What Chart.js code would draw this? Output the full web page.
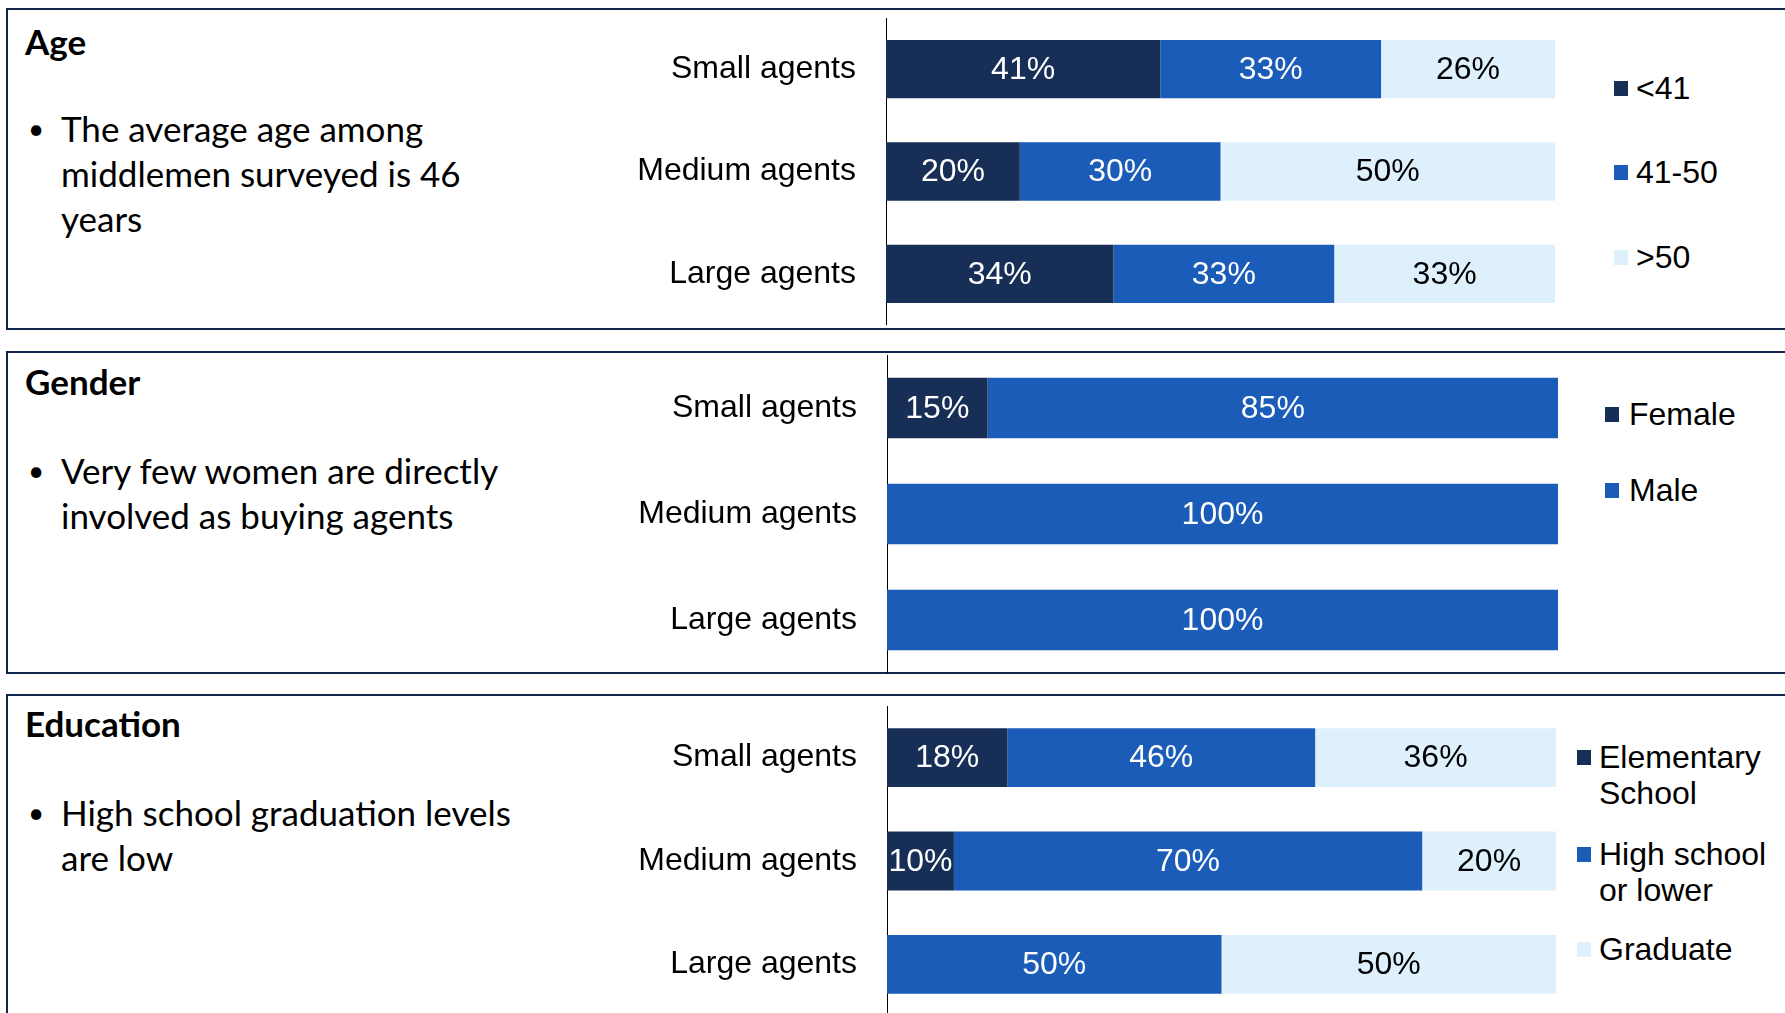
<!DOCTYPE html>
<html>
<head>
<meta charset="utf-8">
<script src="https://cdn.jsdelivr.net/npm/chart.js@4.4.1/dist/chart.umd.min.js"></script>
<style>
    body {
        margin: 0;
        width: 1785px;
        height: 1013px;
        overflow: hidden;
        background: #fff;
        position: relative;
        font-family: Lato, "Open Sans", sans-serif;
        color: #000;
    }
    .panel {
        position: absolute;
        left: 6px;
        width: 1900px;
        border: 2px solid #13244a;
        box-sizing: border-box;
    }
    .title {
        position: absolute;
        left: 25px;
        font-weight: bold;
        font-size: 35px;
        line-height: 44px;
        white-space: nowrap;
    }
    .bullet {
        position: absolute;
        left: 61px;
        font-size: 35px;
        line-height: 45px;
        white-space: nowrap;
    }
    .bullet::before {
        content: '\2022';
        position: absolute;
        left: -33px;
        top: 0;
        font-size: 28px;
    }
    canvas { position: absolute; }
    .legend-item {
        position: absolute;
        font-family: "Liberation Sans", Arial, sans-serif;
        font-size: 32px;
        line-height: 36px;
        white-space: nowrap;
    }
    .legend-box {
        position: absolute;
        width: 14px;
        height: 15px;
        left: 0;
        top: 11px;
    }
</style>
</head>
<body>

<div class="panel" style="top:8px;height:322px"></div>
<div class="panel" style="top:351px;height:323px"></div>
<div class="panel" style="top:694px;height:400px"></div>

<div class="title" style="top:19px">Age</div>
<div class="bullet" style="top:106px">The average age among<br>middlemen surveyed is 46<br>years</div>

<div class="title" style="top:359px">Gender</div>
<div class="bullet" style="top:448px">Very few women are directly<br>involved as buying agents</div>

<div class="title" style="top:701px">Education</div>
<div class="bullet" style="top:790px">High school graduation levels<br>are low</div>

<canvas id="ageChart"></canvas>
<canvas id="genderChart"></canvas>
<canvas id="educationChart"></canvas>

<script>
// 類別與數據
const agentTypes = ['Small agents', 'Medium agents', 'Large agents'];

const ageGroups = ['<41', '41-50', '>50'];
const ageUnder41 = [41, 20, 34];
const age41to50 = [33, 30, 33];
const ageOver50 = [26, 50, 33];

const genderGroups = ['Female', 'Male'];
const genderFemale = [15, 0, 0];
const genderMale = [85, 100, 100];

const educationGroups = [['Elementary', 'School'], ['High school', 'or lower'], ['Graduate']];
const eduElementary = [18, 10, 0];
const eduHighSchool = [46, 70, 50];
const eduGraduate = [36, 20, 50];

const colors = ['#172f57', '#1a5cb8', '#ddf0fc'];
const labelColors = ['#ffffff', '#ffffff', '#000000'];

// 把數值畫在每段長條中央
const valueLabels = {
    id: 'valueLabels',
    afterDatasetsDraw(chart) {
        const ctx = chart.ctx;
        ctx.save();
        ctx.font = '32px "Liberation Sans", Arial, sans-serif';
        ctx.textAlign = 'center';
        ctx.textBaseline = 'middle';
        chart.data.datasets.forEach((ds, i) => {
            chart.getDatasetMeta(i).data.forEach((bar, j) => {
                const v = ds.data[j];
                if (!v) return;
                ctx.fillStyle = ds.labelColor;
                ctx.fillText(v + '%', (bar.x + bar.base) / 2, bar.y + 1);
            });
        });
        ctx.restore();
    }
};

function drawPanel(id, box, names, series, colorIdx) {
    const canvas = document.getElementById(id);
    canvas.width = box.width;
    canvas.height = box.height;
    canvas.style.left = box.left + 'px';
    canvas.style.top = box.top + 'px';
    canvas.style.width = box.width + 'px';
    canvas.style.height = box.height + 'px';

    new Chart(canvas.getContext('2d'), {
        type: 'bar',
        data: {
            labels: agentTypes,
            datasets: series.map((values, i) => ({
                label: names[i].join(' '),
                data: values,
                backgroundColor: colors[colorIdx[i]],
                labelColor: labelColors[colorIdx[i]],
                borderWidth: 0,
                categoryPercentage: 1,
                barPercentage: 0.57
            }))
        },
        options: {
            indexAxis: 'y',
            responsive: false,
            maintainAspectRatio: false,
            animation: false,
            layout: { padding: { left: 0, right: box.padRight, top: 0, bottom: 0 } },
            plugins: {
                legend: { display: false },
                tooltip: { enabled: false }
            },
            scales: {
                x: {
                    stacked: true,
                    min: 0,
                    max: 100,
                    display: false
                },
                y: {
                    stacked: true,
                    grid: { display: false, drawTicks: false },
                    border: { display: true, color: '#000', width: 1 },
                    ticks: {
                        color: '#000',
                        padding: 30,
                        font: { family: '"Liberation Sans", Arial, sans-serif', size: 32 }
                    },
                    afterFit(scale) {
                        scale.width = box.axisWidth;
                        scale.paddingTop = 0;
                        scale.paddingBottom = 0;
                    }
                }
            }
        },
        plugins: [valueLabels]
    });
}

// 圖例 (HTML)
function drawLegend(names, colorIdx, squareX, textX, centersY) {
    names.forEach((lines, i) => {
        const item = document.createElement('div');
        item.className = 'legend-item';
        item.style.left = squareX + 'px';
        item.style.top = (centersY[i] - 18) + 'px';
        const sq = document.createElement('span');
        sq.className = 'legend-box';
        sq.style.background = colors[colorIdx[i]];
        const txt = document.createElement('div');
        txt.style.marginLeft = (textX - squareX) + 'px';
        txt.innerHTML = lines.join('<br>');
        item.appendChild(sq);
        item.appendChild(txt);
        document.body.appendChild(item);
    });
}

drawPanel('ageChart', { left: 560, top: 18, width: 1000, height: 307, axisWidth: 326, padRight: 5 },
    ageGroups.map(g => [g]), [ageUnder41, age41to50, ageOver50], [0, 1, 2]);
drawPanel('genderChart', { left: 560, top: 355, width: 1000, height: 318, axisWidth: 327, padRight: 2 },
    genderGroups.map(g => [g]), [genderFemale, genderMale], [0, 1]);
drawPanel('educationChart', { left: 560, top: 706, width: 1000, height: 310, axisWidth: 327, padRight: 4 },
    educationGroups, [eduElementary, eduHighSchool, eduGraduate], [0, 1, 2]);

drawLegend(ageGroups.map(g => [g]), [0, 1, 2], 1614, 1636, [88, 172, 257]);
drawLegend(genderGroups.map(g => [g]), [0, 1], 1605, 1629, [414, 490]);
drawLegend(educationGroups, [0, 1, 2], 1577, 1599, [757, 854, 949]);
</script>
</body>
</html>
